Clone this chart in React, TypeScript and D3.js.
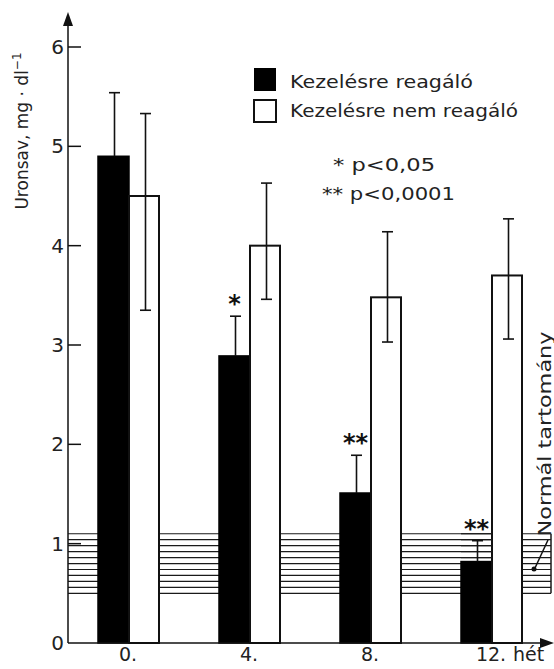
import React from "react";
import * as d3 from "d3";

// Weeks of treatment
const weeks = ["0.", "4.", "8.", "12."];
const series = ["Kezelésre reagáló", "Kezelésre nem reagáló"];

// Uric acid means (mg/dl) and error bar limits
const respMean = [4.9, 2.89, 1.51, 0.82];
const respUpper = [5.54, 3.29, 1.89, 1.03];
const nonRespMean = [4.5, 4.0, 3.48, 3.7];
const nonRespUpper = [5.33, 4.63, 4.14, 4.27];
const nonRespLower = [3.35, 3.46, 3.03, 3.06];

const stars = ["", "*", "**", "**"];
const yTicks = [0, 1, 2, 3, 4, 5, 6];

// Normal range band
const normalLow = 0.5;
const normalHigh = 1.1;
const normalLines = d3.range(0, 11).map((i) => normalLow + i * 0.06);

const W = 554;
const H = 669;
const FONT = "'DejaVu Sans', sans-serif";

export default function App() {
  const y = d3.scaleLinear().domain([0, 6]).range([643, 47]);
  const x = d3.scaleBand().domain(weeks).range([69.5, 553.5]).paddingInner(0);
  const sub = d3.scaleBand().domain(series).range([-32, 30]).paddingInner(0);

  const axisX = 68;
  const bandRight = 551;
  const center = (w: string) => (x(w) as number) + x.bandwidth() / 2;

  const capW = 11;

  return (
    <svg
      width={W}
      height={H}
      style={{ position: "absolute", left: 0, top: 0, background: "#fff" }}
      fontFamily={FONT}
    >
      {/* normal range hatching */}
      <g stroke="#1a1a1a" strokeWidth={1.2}>
        {normalLines.map((v, i) => (
          <line key={i} x1={axisX} x2={bandRight} y1={y(v)} y2={y(v)} />
        ))}
        <line x1={bandRight} x2={bandRight} y1={y(normalHigh)} y2={y(normalLow)} strokeWidth={1.5} />
      </g>

      {/* bars */}
      {weeks.map((w, i) => {
        const c = center(w);
        const bx = c + (sub(series[0]) as number);
        const wx = c + (sub(series[1]) as number);
        const bw = sub.bandwidth();
        return (
          <g key={w}>
            <rect
              x={bx}
              y={y(respMean[i])}
              width={bw}
              height={y(0) - y(respMean[i])}
              fill="#000"
              stroke="#000"
              strokeWidth={1.5}
            />
            <rect
              x={wx}
              y={y(nonRespMean[i])}
              width={bw - 1}
              height={y(0) - y(nonRespMean[i])}
              fill="#fff"
              stroke="#111"
              strokeWidth={2}
            />
          </g>
        );
      })}

      {/* hatching above the short bar at week 12 */}
      <g stroke="#1a1a1a" strokeWidth={1.2}>
        {normalLines
          .filter((v) => v > respMean[3])
          .map((v, i) => {
            const c = center("12.");
            const bx = c + (sub(series[0]) as number);
            return <line key={i} x1={bx} x2={bx + sub.bandwidth()} y1={y(v)} y2={y(v)} />;
          })}
      </g>

      {/* error bars */}
      <g stroke="#111" strokeWidth={1.6} fill="none">
        {weeks.map((w, i) => {
          const c = center(w);
          const bxc = c + (sub(series[0]) as number) + sub.bandwidth() / 2 + 1;
          const wxc = c + (sub(series[1]) as number) + sub.bandwidth() / 2 + 1;
          return (
            <g key={w}>
              <line x1={bxc} x2={bxc} y1={y(respMean[i])} y2={y(respUpper[i])} />
              <line x1={bxc - capW / 2} x2={bxc + capW / 2} y1={y(respUpper[i])} y2={y(respUpper[i])} />
              <line x1={wxc} x2={wxc} y1={y(nonRespLower[i])} y2={y(nonRespUpper[i])} />
              <line x1={wxc - capW / 2} x2={wxc + capW / 2} y1={y(nonRespUpper[i])} y2={y(nonRespUpper[i])} />
              <line x1={wxc - capW / 2} x2={wxc + capW / 2} y1={y(nonRespLower[i])} y2={y(nonRespLower[i])} />
            </g>
          );
        })}
      </g>

      {/* significance marks */}
      {weeks.map((w, i) => {
        const c = center(w);
        const bxc = c + (sub(series[0]) as number) + sub.bandwidth() / 2;
        return stars[i] ? (
          <text
            key={w}
            x={bxc}
            y={y(respUpper[i]) - 4}
            textAnchor="middle"
            fontSize={24}
            fontWeight="bold"
            fill="#111"
          >
            {stars[i]}
          </text>
        ) : null;
      })}

      {/* y axis */}
      <line x1={axisX} x2={axisX} y1={y(0)} y2={22} stroke="#111" strokeWidth={1.5} />
      <path d={`M${axisX - 5},26 L${axisX},12 L${axisX + 5},26 Z`} fill="#111" />
      {yTicks.map((t) => (
        <g key={t}>
          {t > 0 && (
            <line x1={axisX} x2={axisX + 13} y1={y(t)} y2={y(t)} stroke="#111" strokeWidth={1.5} />
          )}
          <text x={axisX - 4} y={y(t) + 7} textAnchor="end" fontSize={20} fill="#222">
            {t}
          </text>
        </g>
      ))}
      <text
        transform={`translate(28, ${131}) rotate(-90)`}
        textAnchor="middle"
        fontSize={17}
        fill="#222"
      >
        Uronsav, mg · dl
        <tspan dy={-7} fontSize={12}>
          −1
        </tspan>
      </text>

      {/* x axis */}
      <line x1={axisX} x2={543} y1={y(0)} y2={y(0)} stroke="#111" strokeWidth={1.5} />
      <path d={`M540,${y(0) - 5} L554,${y(0)} L540,${y(0) + 5} Z`} fill="#111" />
      {weeks.map((w) => (
        <text key={w} x={center(w) - 2} y={661} textAnchor="middle" fontSize={19} fill="#222">
          {w}
        </text>
      ))}
      <text x={513} y={661} fontSize={19} fill="#222">
        hét
      </text>

      {/* legend */}
      <rect x={254} y={68} width={22} height={23} fill="#000" />
      <rect x={254} y={100} width={22} height={22} fill="#fff" stroke="#111" strokeWidth={2} />
      <text x={290} y={88} fontSize={18} fill="#222" textLength={183} lengthAdjust="spacingAndGlyphs">
        {series[0]}
      </text>
      <text x={290} y={117} fontSize={18} fill="#222" textLength={228} lengthAdjust="spacingAndGlyphs">
        {series[1]}
      </text>
      <text x={333} y={171} fontSize={18} fill="#222" textLength={102} lengthAdjust="spacingAndGlyphs">
        * p&lt;0,05
      </text>
      <text x={322} y={200} fontSize={18} fill="#222" textLength={133} lengthAdjust="spacingAndGlyphs">
        ** p&lt;0,0001
      </text>

      {/* normal range label */}
      <text
        transform={`translate(551, 434) rotate(-90)`}
        textAnchor="middle"
        fontSize={17}
        fill="#222"
        textLength={205}
        lengthAdjust="spacingAndGlyphs"
      >
        Normál tartomány
      </text>
      <line x1={548} y1={540} x2={535} y2={568} stroke="#111" strokeWidth={1.5} />
      <circle cx={534} cy={569} r={2.5} fill="#111" />
    </svg>
  );
}
